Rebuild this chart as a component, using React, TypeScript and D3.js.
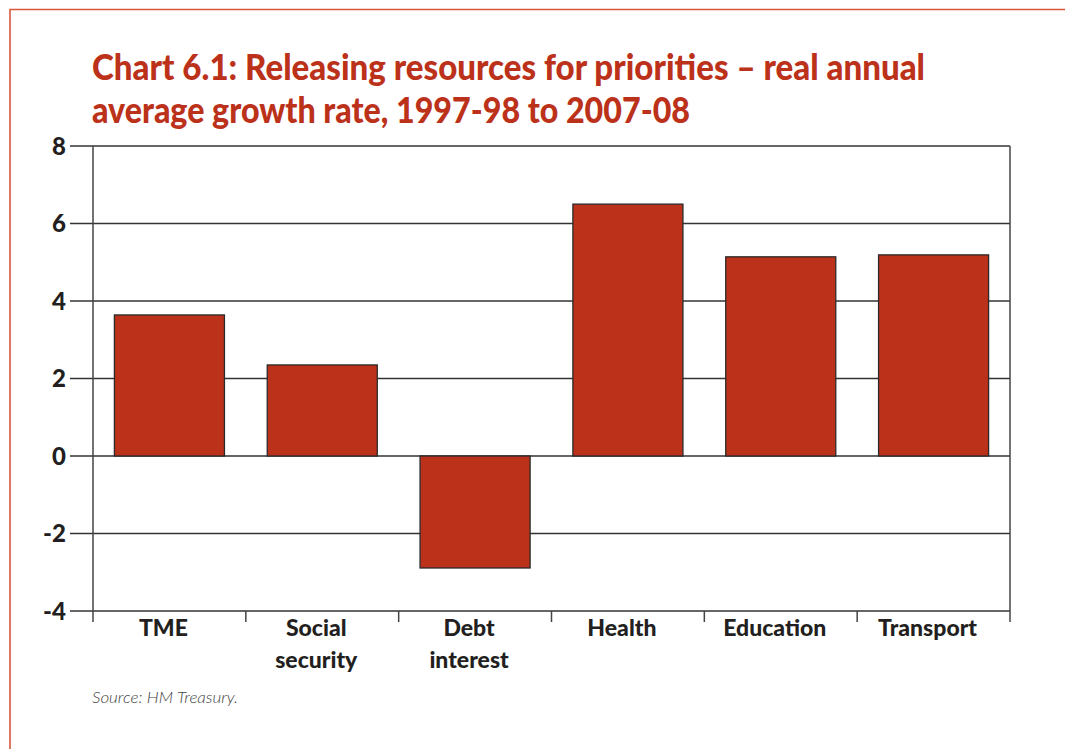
import React from "react";
import * as d3 from "d3";

const categories: string[][] = [
  ["TME"],
  ["Social", "security"],
  ["Debt", "interest"],
  ["Health"],
  ["Education"],
  ["Transport"],
];
const values: number[] = [3.64, 2.35, -2.89, 6.5, 5.14, 5.19];
const yTicks: number[] = [-4, -2, 0, 2, 4, 6, 8];
const titleLines: string[] = [
  "Chart 6.1: Releasing resources for priorities \u2013 real annual",
  "average growth rate, 1997-98 to 2007-08",
];
const sourceText = "Source: HM Treasury.";

const W = 1065;
const H = 749;
const plot = { left: 93, right: 1010, top: 146, bottom: 611 };
const RED = "#bc311a";
const INK = "#231f20";
const FONT = "Lato, 'Open Sans', sans-serif";

export default function App() {
  const x = d3
    .scaleBand<number>()
    .domain(d3.range(categories.length))
    .range([plot.left, plot.right])
    .paddingInner(0.28)
    .paddingOuter(0.14);
  const y = d3.scaleLinear().domain([-4, 8]).range([plot.bottom, plot.top]);
  const step = (plot.right - plot.left) / categories.length;
  const boundaries = d3.range(categories.length + 1).map((i) => plot.left + i * step);

  return (
    <svg
      width={W}
      height={H}
      style={{ position: "absolute", left: 0, top: 0, background: "#fff" }}
    >
      {/* red frame */}
      <path d={`M10,${H} L10,9.5 L${W},9.5`} fill="none" stroke="#d9563f" strokeWidth={1.6} />

      {/* title */}
      {titleLines.map((t, i) => (
        <text
          key={i}
          x={92}
          y={80 + i * 43}
          fill={RED}
          fontFamily={FONT}
          fontWeight={900}
          fontSize={36}
          textLength={i === 0 ? 833 : 598}
          lengthAdjust="spacingAndGlyphs"
        >
          {t}
        </text>
      ))}

      {/* gridlines */}
      {yTicks.map((t) => (
        <line
          key={t}
          x1={70}
          x2={plot.right}
          y1={y(t)}
          y2={y(t)}
          stroke="#333"
          strokeWidth={1.5}
        />
      ))}
      {/* y tick labels */}
      {yTicks.map((t) => (
        <text
          key={"l" + t}
          x={66}
          y={y(t)}
          dy="0.36em"
          textAnchor="end"
          fill={INK}
          fontFamily={FONT}
          fontWeight={900}
          fontSize={24}
        >
          {t}
        </text>
      ))}

      {/* vertical frame lines */}
      <line x1={plot.left} x2={plot.left} y1={plot.top} y2={622} stroke="#444" strokeWidth={1.5} />
      <line x1={plot.right} x2={plot.right} y1={plot.top} y2={622} stroke="#444" strokeWidth={1.5} />
      {boundaries.slice(1, -1).map((b, i) => (
        <line key={i} x1={b} x2={b} y1={plot.bottom} y2={622} stroke="#444" strokeWidth={1.5} />
      ))}

      {/* bars */}
      {values.map((v, i) => (
        <rect
          key={i}
          x={x(i)!}
          width={x.bandwidth()}
          y={y(Math.max(0, v))}
          height={Math.abs(y(v) - y(0))}
          fill={RED}
          stroke="#2a2a2a"
          strokeWidth={1.3}
        />
      ))}

      {/* category labels */}
      {categories.map((lines, i) => {
        const cx = x(i)! + x.bandwidth() / 2 - 6;
        return (
          <text
            key={i}
            x={cx}
            textAnchor="middle"
            fill={INK}
            fontFamily={FONT}
            fontWeight={900}
            fontSize={23}
          >
            {lines.map((l, j) => (
              <tspan key={j} x={cx} y={636 + j * 32}>
                {l}
              </tspan>
            ))}
          </text>
        );
      })}

      {/* source */}
      <text
        x={92}
        y={703}
        fill="#444"
        fontFamily={FONT}
        fontStyle="italic"
        fontWeight={300}
        fontSize={16}
        textLength={146}
        lengthAdjust="spacingAndGlyphs"
      >
        {sourceText}
      </text>
    </svg>
  );
}
